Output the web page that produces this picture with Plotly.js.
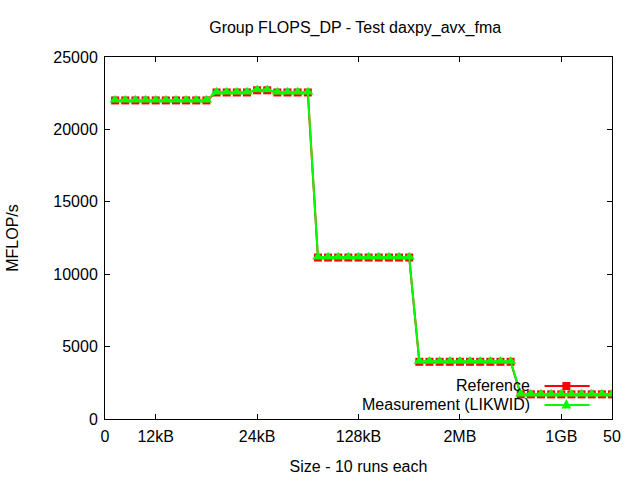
<!DOCTYPE html>
<html><head><meta charset="utf-8">
<script src="https://cdn.plot.ly/plotly-3.0.1.min.js"></script>
<style>html,body{margin:0;padding:0;background:#fff}#chart{width:640px;height:480px}</style>
</head><body><div id="chart"></div>
<script>
const sizes = [1,2,3,4,5,6,7,8,9,10,11,12,13,14,15,16,17,18,19,20,21,22,23,24,25,26,27,28,29,30,31,32,33,34,35,36,37,38,39,40,41,42,43,44,45,46,47,48,49,50];
const reference = [22000,22000,22000,22000,22000,22000,22000,22000,22000,22000,
  22550,22550,22550,22550,22700,22700,22550,22550,22550,22550,
  11150,11150,11150,11150,11150,11150,11150,11150,11150,11150,
  3950,3950,3950,3950,3950,3950,3950,3950,3950,3950,
  1700,1700,1700,1700,1700,1700,1700,1700,1700,1700];
const measurement = [22030,22030,22030,22030,22030,22030,22030,22030,22030,22030,
  22580,22580,22580,22580,22730,22730,22580,22580,22580,22580,
  11180,11180,11180,11180,11180,11180,11180,11180,11180,11180,
  3980,3980,3980,3980,3980,3980,3980,3980,3980,3980,
  1730,1730,1730,1730,1730,1730,1730,1730,1730,1730];
const xTickVals = [0,5,15,25,35,45,50];
const xTickText = ['0','12kB','24kB','128kB','2MB','1GB','50'];
const yTickVals = [0,5000,10000,15000,20000,25000];
const seriesNames = ['Reference','Measurement (LIKWID)'];

const FONT = 'Liberation Sans, Arial, sans-serif';
const RED = '#ff0000', GREEN = '#00ff00';

const traces = [
  {x: sizes, y: reference, name: seriesNames[0], mode: 'lines+markers', type: 'scatter',
   line: {color: RED, width: 2}, marker: {symbol: 'square', size: 8, color: RED}},
  {x: sizes, y: measurement, name: seriesNames[1], mode: 'lines+markers', type: 'scatter',
   line: {color: GREEN, width: 2}, marker: {symbol: 'triangle-up', size: 10, color: GREEN}}
];

// custom gnuplot-style legend (text on the left, sample on the right)
const W = 507.5, H = 362;
const lx0 = 0.867, lx1 = 0.956, lxm = 0.910, ltext = 0.843;
const ly = [0.0912, 0.0387];
const sq = 4;
const tr = 5;
const shapes = [
  {type: 'line', xref: 'paper', yref: 'paper', x0: lx0, x1: lx1, y0: ly[0], y1: ly[0], line: {color: RED, width: 2}},
  {type: 'rect', xref: 'paper', yref: 'paper', x0: lxm - sq / W, x1: lxm + sq / W, y0: ly[0] - sq / H, y1: ly[0] + sq / H, fillcolor: RED, line: {width: 0}},
  {type: 'line', xref: 'paper', yref: 'paper', x0: lx0, x1: lx1, y0: ly[1], y1: ly[1], line: {color: GREEN, width: 2}},
  {type: 'path', xref: 'paper', yref: 'paper',
   path: `M ${lxm - tr / W} ${ly[1] - 3.5 / H} L ${lxm + tr / W} ${ly[1] - 3.5 / H} L ${lxm} ${ly[1] + 6 / H} Z`,
   fillcolor: GREEN, line: {width: 0}}
];
const annotations = seriesNames.map((t, i) => ({
  text: t, xref: 'paper', yref: 'paper', x: ltext, y: ly[i], xanchor: 'right', yanchor: 'middle',
  showarrow: false, font: {family: FONT, size: 16, color: '#000'}
}));

const axisCommon = {showline: true, linecolor: '#000', linewidth: 1, mirror: 'allticks',
  ticks: 'inside', ticklen: 5, tickcolor: '#000', showgrid: false, zeroline: false,
  tickfont: {family: FONT, size: 16, color: '#000'}};

const layout = {
  width: 640, height: 480,
  paper_bgcolor: '#fff', plot_bgcolor: '#fff',
  margin: {l: 105, r: 28, t: 57, b: 61},
  showlegend: false,
  font: {family: FONT, size: 16, color: '#000'},
  title: {text: 'Group FLOPS_DP - Test daxpy_avx_fma', font: {family: FONT, size: 16, color: '#000'},
    x: 0.555, xanchor: 'center', y: 0.942, yanchor: 'middle'},
  xaxis: Object.assign({}, axisCommon, {range: [0, 50], tickmode: 'array', tickvals: xTickVals, ticktext: xTickText,
    ticklabelstandoff: 3,
    title: {text: 'Size - 10 runs each', font: {family: FONT, size: 16, color: '#000'}, standoff: 16}}),
  yaxis: Object.assign({}, axisCommon, {range: [0, 25000], tickmode: 'array', tickvals: yTickVals,
    ticktext: yTickVals.map(String), ticklabelstandoff: 3,
    title: {text: 'MFLOP/s', font: {family: FONT, size: 16, color: '#000'}, standoff: 30}}),
  shapes: shapes,
  annotations: annotations
};

Plotly.newPlot('chart', traces, layout, {displayModeBar: false, staticPlot: true});
</script>
</body></html>
